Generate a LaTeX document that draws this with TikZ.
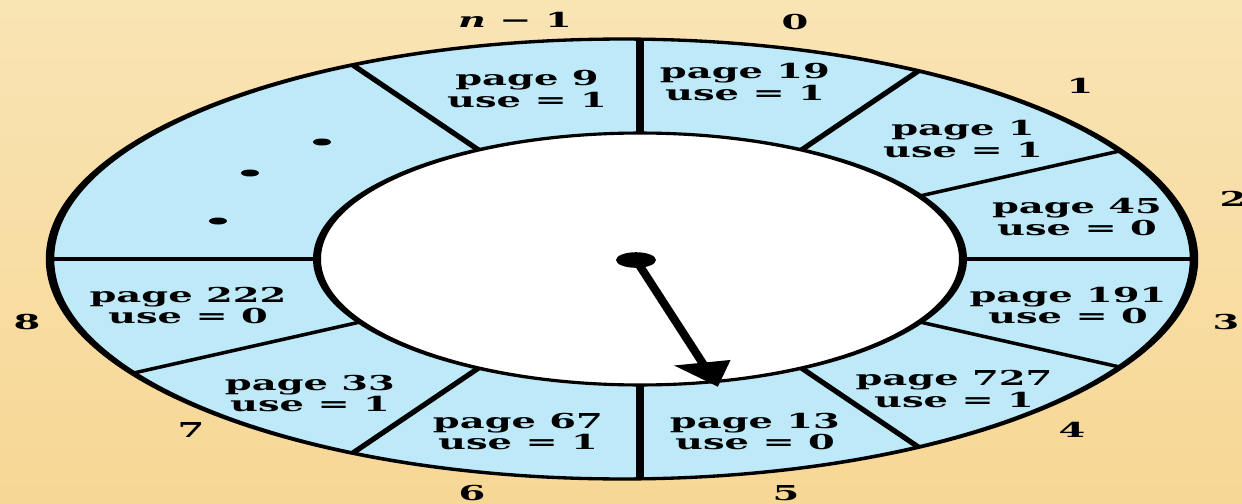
\documentclass[tikz,border=0pt]{standalone}
\usepackage{fontspec}
\usepackage{graphicx}
\usepackage{xcolor}
\usepackage{tikz}
\usetikzlibrary{arrows.meta}
\newfontfamily\clockface{DejaVu Serif}
\definecolor{clockbg}{HTML}{F9E4B4}
\definecolor{clockbgdeep}{HTML}{F7D795}
\definecolor{clockslot}{HTML}{BEE9F8}
\newcommand{\clockfont}{\clockface\fontsize{11.7}{11.4}\selectfont\bfseries}
\newcommand{\widen}[1]{\scalebox{1.87}[1]{#1}}
\newcommand{\frameinfo}[2]{\widen{\begin{tabular}{@{}c@{}}page #1\\use = #2\end{tabular}}}
\tikzset{
ring edge/.style={draw=black, line width=0.17cm},
ring divider/.style={draw=black, line width=0.16cm},
clock hand/.style={draw=black, line width=0.19cm, -{Triangle[length=1.28cm,width=1.11cm]}},
frame label/.style={font=\clockfont, inner sep=0pt, align=center},
slot index/.style={font=\clockfont, inner sep=0pt}
}
\begin{document}
\begin{tikzpicture}[x=0.02cm,y=0.02cm]
\useasboundingbox (-640,-245) rectangle (602,259);
\shade[top color=clockbg, bottom color=clockbgdeep] (-640,-245) rectangle (602,259);
% the ring is drawn round and then squashed
\begin{scope}[transform canvas={yscale=0.39}]
  \fill[clockslot] (-18,0) ellipse [x radius=572, y radius=564];
  \begin{scope}
    \clip (-18,0) ellipse [x radius=572, y radius=564];
    \foreach \a in {180,120,90,60,30,0,-30,-60,-90,-120,-150}
      \draw[ring divider] (\a:300) -- (\a:700);
  \end{scope}
  \filldraw[fill=white, ring edge, line width=0.16cm] (0,0) circle [radius=323];
  \draw[ring edge] (-18,0) ellipse [x radius=572, y radius=564];
  \foreach \p in {(-318,300),(-390,220.5),(-422,97.4)}
    \fill \p circle [radius=9];
  \coordinate (pivot) at (-4,-2.6);
  \coordinate (hand) at (78,-328);
  \fill (pivot) circle [radius=20];
  \draw[clock hand] (pivot) -- (hand);
\end{scope}
% frames
\node[frame label] (pg9) at (-113,167) {\frameinfo{9}{1}};
\node[frame label] (pg19) at (105,174) {\frameinfo{19}{1}};
\node[frame label] (pg1) at (323,117) {\frameinfo{1}{1}};
\node[frame label] (pg45) at (437,39) {\frameinfo{45}{0}};
\node[frame label] (pg191) at (428,-49.5) {\frameinfo{191}{0}};
\node[frame label] (pg727) at (314,-133) {\frameinfo{727}{1}};
\node[frame label] (pg13) at (115,-175.5) {\frameinfo{13}{0}};
\node[frame label] (pg67) at (-122,-175.5) {\frameinfo{67}{1}};
\node[frame label] (pg33) at (-330,-137.5) {\frameinfo{33}{1}};
\node[frame label] (pg222) at (-452,-49.5) {\frameinfo{222}{0}};
% slot numbers
\node[slot index] (idxn) at (-125,239) {\widen{{\itshape n} − 1}};
\node[slot index] (idx0) at (155,237) {\widen{0}};
\node[slot index] (idx1) at (440,173) {\widen{1}};
\node[slot index] (idx2) at (593,60) {\widen{2}};
\node[slot index] (idx3) at (586,-63) {\widen{3}};
\node[slot index] (idx4) at (432,-171) {\widen{4}};
\node[slot index] (idx5) at (146,-234) {\widen{5}};
\node[slot index] (idx6) at (-168,-234) {\widen{6}};
\node[slot index] (idx7) at (-449,-171) {\widen{7}};
\node[slot index] (idx8) at (-613,-63) {\widen{8}};
\end{tikzpicture}
\end{document}
